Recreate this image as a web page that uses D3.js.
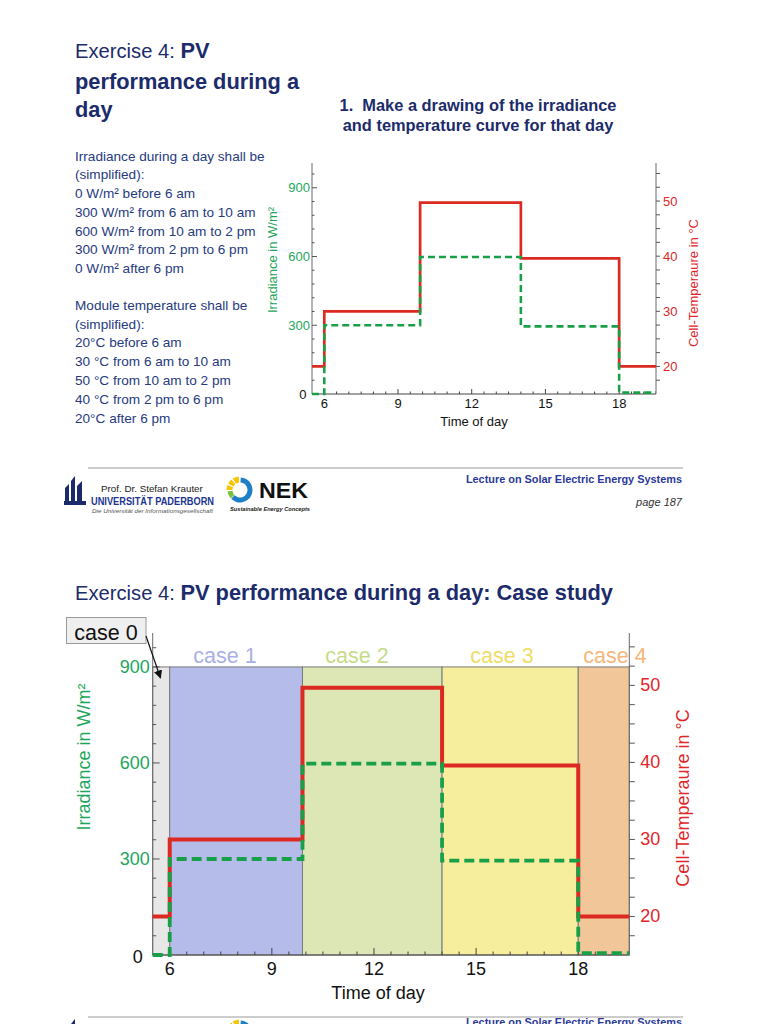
<!DOCTYPE html>
<html><head><meta charset="utf-8">
<script src="https://cdn.jsdelivr.net/npm/d3@7"></script>
<style>
body{margin:0;background:#fff}
svg{display:block;font-family:"Liberation Sans",Arial,Helvetica,sans-serif}
</style>
</head><body>
<svg id="c" width="768" height="1024"></svg>
<script>
// ---------------- data ----------------
const stepHours   = [5.5, 6, 9.9, 14, 18, 19.5];      // boundaries of the daily steps (h)
const irradiance  = [0, 300, 598, 295, 6];            // W/m² in each step
const cellTemp    = [20, 30, 49.7, 39.6, 20];         // °C in each step
const caseNames   = ["case 0", "case 1", "case 2", "case 3", "case 4"];
const hourTicks   = [6, 9, 12, 15, 18];
const irrTicks    = [0, 300, 600, 900];
const tempTicks   = [20, 30, 40, 50];
const bandTop     = 900;                               // W/m², top of the case bands
const irrLines = ["Irradiance during a day shall be", "(simplified):", "0 W/m² before 6 am",
  "300 W/m² from 6 am to 10 am", "600 W/m² from 10 am to 2 pm", "300 W/m² from 2 pm to 6 pm", "0 W/m² after 6 pm"];
const tempLines = ["Module temperature shall be", "(simplified):", "20°C before 6 am",
  "30 °C from 6 am to 10 am", "50 °C from 10 am to 2 pm", "40 °C from 2 pm to 6 pm", "20°C after 6 pm"];

// ---------------- styles ----------------
const NAVY = "#1c2b6b", TXT = "#263a80", GREEN = "#1ea65a", RED = "#e0262a",
      LRED = "#dc2a22", LGREEN = "#18a048", AX = "#6a6a6a";
const caseFill  = ["#e7e7e7", "#b6bcea", "#dde7b6", "#f6ed9d", "#f1c799"];
const caseLabel = ["#000", "#a9b0e4", "#c6db8a", "#efdc68", "#f5b67a"];
const caseLabelX = [0, 225, 357, 502, 615];

const svg = d3.select("#c");
svg.append("rect").attr("width", 768).attr("height", 1024).attr("fill", "#fff");

// ---------------- slide 1 text ----------------
const t1 = svg.append("text").attr("x", 75).attr("y", 58).attr("fill", NAVY);
t1.append("tspan").attr("font-size", 20.2).text("Exercise 4: ");
t1.append("tspan").attr("font-size", 21.8).attr("font-weight", "bold").text("PV");
svg.append("text").attr("x", 75).attr("y", 89).attr("fill", NAVY).attr("font-size", 21.8)
  .attr("font-weight", "bold").text("performance during a");
svg.append("text").attr("x", 75).attr("y", 117).attr("fill", NAVY).attr("font-size", 21.8)
  .attr("font-weight", "bold").text("day");

svg.selectAll("text.l1").data(irrLines).join("text").attr("class", "l1")
  .attr("x", 75).attr("y", (d, i) => 160.7 + i * 18.7).attr("fill", TXT).attr("font-size", 13.6).text(d => d);
svg.selectAll("text.l2").data(tempLines).join("text").attr("class", "l2")
  .attr("x", 75).attr("y", (d, i) => 309.7 + i * 18.8).attr("fill", TXT).attr("font-size", 13.6).text(d => d);

svg.append("text").attr("x", 478).attr("y", 111).attr("text-anchor", "middle").attr("fill", NAVY)
  .attr("font-size", 16.4).attr("font-weight", "bold").attr("xml:space", "preserve").text("1.  Make a drawing of the irradiance");
svg.append("text").attr("x", 478).attr("y", 131).attr("text-anchor", "middle").attr("fill", NAVY)
  .attr("font-size", 16.4).attr("font-weight", "bold").text("and temperature curve for that day");

// ---------------- slide 2 title ----------------
const t2 = svg.append("text").attr("x", 75).attr("y", 600).attr("fill", NAVY);
t2.append("tspan").attr("font-size", 20.2).text("Exercise 4: ");
t2.append("tspan").attr("font-size", 21.8).attr("font-weight", "bold").text("PV performance during a day: Case study");

// ---------------- chart ----------------
function chart(L) {
  const g = svg.append("g");
  const x = d3.scaleLinear().domain([stepHours[0], stepHours[stepHours.length - 1]]).range([L.x0, L.x1]);
  const yI = d3.scaleLinear().domain([0, L.irrMax]).range([L.yb, L.yt]);
  const yT = d3.scaleLinear().domain([L.tMin, L.tMax]).range([L.yb, L.yt]);

  if (L.bands) {
    g.selectAll("rect.band").data(caseNames).join("rect").attr("class", "band")
      .attr("x", (d, i) => x(stepHours[i])).attr("width", (d, i) => x(stepHours[i + 1]) - x(stepHours[i]))
      .attr("y", yI(bandTop)).attr("height", yI(0) - yI(bandTop))
      .attr("fill", (d, i) => caseFill[i]).attr("stroke", "#7a7a7a").attr("stroke-width", 1);
    g.selectAll("text.case").data(caseNames.slice(1)).join("text").attr("class", "case")
      .attr("x", (d, i) => caseLabelX[i + 1]).attr("y", 663).attr("text-anchor", "middle")
      .attr("font-size", 21.5).attr("fill", (d, i) => caseLabel[i + 1]).text(d => d);
  }

  // axes lines
  g.append("line").attr("x1", L.x0).attr("x2", L.x0).attr("y1", L.yb).attr("y2", L.yt).attr("stroke", AX);
  g.append("line").attr("x1", L.x1).attr("x2", L.x1).attr("y1", L.yb).attr("y2", L.yt).attr("stroke", AX);
  g.append("line").attr("x1", L.x0).attr("x2", L.x1).attr("y1", L.yb).attr("y2", L.yb).attr("stroke", "#444");

  // left ticks (inside)
  const irrMinor = d3.range(60, L.irrMax, 60);
  g.selectAll("line.li").data(irrMinor).join("line").attr("class", "li")
    .attr("x1", L.x0).attr("x2", d => L.x0 + (d % 300 === 0 ? L.tkMaj : L.tkMin))
    .attr("y1", d => yI(d)).attr("y2", d => yI(d)).attr("stroke", "#555");
  g.selectAll("text.li").data(irrTicks).join("text").attr("class", "li")
    .attr("x", d => d === 0 ? L.x0 - L.zeroOff : L.x0 - L.lblOff).attr("y", d => yI(d) + (d === 0 ? L.zeroDy : 0))
    .attr("text-anchor", "end").attr("dominant-baseline", "central")
    .attr("font-size", L.fs).attr("fill", d => d === 0 ? "#111" : GREEN).text(d => d);

  // right ticks (outside)
  const tMinor = d3.range(17.5, L.tMax, 2.5);
  g.selectAll("line.ri").data(tMinor).join("line").attr("class", "ri")
    .attr("x1", L.x1).attr("x2", L.x1 + L.tkR)
    .attr("y1", d => yT(d)).attr("y2", d => yT(d)).attr("stroke", "#555");
  g.selectAll("text.ri").data(tempTicks).join("text").attr("class", "ri")
    .attr("x", L.x1 + L.rOff).attr("y", d => yT(d)).attr("dominant-baseline", "central")
    .attr("font-size", L.fs).attr("fill", RED).text(d => d);

  // bottom ticks (inside)
  const hMinor = d3.range(6, stepHours[stepHours.length - 1], 0.5);
  g.selectAll("line.bi").data(hMinor).join("line").attr("class", "bi")
    .attr("x1", d => x(d)).attr("x2", d => x(d))
    .attr("y1", L.yb).attr("y2", d => L.yb - (hourTicks.includes(d) ? L.tkMaj : L.tkMin)).attr("stroke", "#444");
  g.selectAll("text.bi").data(hourTicks).join("text").attr("class", "bi")
    .attr("x", d => x(d)).attr("y", L.yb + L.xDy).attr("text-anchor", "middle").attr("dominant-baseline", "central")
    .attr("font-size", L.fs).attr("fill", "#111").text(d => d);

  // axis titles
  g.append("text").attr("transform", `translate(${L.irrT[0]},${L.irrT[1]}) rotate(-90)`)
    .attr("text-anchor", "middle").attr("dominant-baseline", "central")
    .attr("font-size", L.tfs).attr("fill", GREEN).text("Irradiance in W/m²");
  g.append("text").attr("transform", `translate(${L.tmpT[0]},${L.tmpT[1]}) rotate(-90)`)
    .attr("text-anchor", "middle").attr("dominant-baseline", "central")
    .attr("font-size", L.tfs).attr("fill", RED).text("Cell-Temperaure in °C");
  g.append("text").attr("x", L.timeT[0]).attr("y", L.timeT[1]).attr("text-anchor", "middle")
    .attr("dominant-baseline", "central").attr("font-size", L.tfs).attr("fill", "#111").text("Time of day");

  // step lines
  const stepPts = vals => vals.map((v, i) => [stepHours[i], v]).concat([[stepHours[vals.length], vals[vals.length - 1]]]);
  const lineT = d3.line().x(d => x(d[0])).y(d => yT(d[1])).curve(d3.curveStepAfter);
  const lineI = d3.line().x(d => x(d[0])).y(d => yI(d[1])).curve(d3.curveStepAfter);
  g.append("path").attr("d", lineT(stepPts(cellTemp))).attr("fill", "none")
    .attr("stroke", LRED).attr("stroke-width", L.lw);
  g.append("path").attr("d", lineI(stepPts(irradiance))).attr("fill", "none")
    .attr("stroke", LGREEN).attr("stroke-width", L.lw * 0.95).attr("stroke-dasharray", L.dash);
}

chart({x0: 312, x1: 656, yb: 394, yt: 163, irrMax: 1008, tMin: 15, tMax: 56.9,
  fs: 13, tfs: 13, tkMaj: 5, tkMin: 2.5, tkR: 4, lblOff: 2, zeroOff: 5.5, zeroDy: 0, rOff: 7, xDy: 9.5,
  lw: 2.7, dash: "7,4", bands: false,
  irrT: [272, 260], tmpT: [693, 283], timeT: [474, 421]});

chart({x0: 152.7, x1: 629.3, yb: 955, yt: 633, irrMax: 1006, tMin: 15, tMax: 56.8,
  fs: 18, tfs: 18, tkMaj: 7, tkMin: 3.5, tkR: 5.5, lblOff: 3, zeroOff: 10, zeroDy: 1.5, rOff: 11, xDy: 13.5,
  lw: 4, dash: "10,5", bands: true,
  irrT: [84, 757], tmpT: [683, 798], timeT: [378, 993]});

// case 0 call-out
svg.append("defs").append("marker").attr("id", "ah").attr("viewBox", "0 0 10 10").attr("refX", 9).attr("refY", 5)
  .attr("markerWidth", 7).attr("markerHeight", 7).attr("orient", "auto")
  .append("path").attr("d", "M0,0L10,5L0,10z").attr("fill", "#111");
svg.append("rect").attr("x", 66.5).attr("y", 617.5).attr("width", 79.5).attr("height", 26)
  .attr("fill", "#efefef").attr("stroke", "#9a9a9a");
svg.append("text").attr("x", 106).attr("y", 640).attr("text-anchor", "middle").attr("font-size", 21.5)
  .attr("fill", "#111").text("case 0");
svg.append("line").attr("x1", 146).attr("y1", 636).attr("x2", 160.5).attr("y2", 678)
  .attr("stroke", "#111").attr("stroke-width", 1.2).attr("marker-end", "url(#ah)");

// ---------------- footers ----------------
function footer(dy, lineY, full) {
  svg.append("line").attr("x1", 88).attr("x2", 683).attr("y1", lineY).attr("y2", lineY).attr("stroke", "#9a9a9a");
  const g = svg.append("g").attr("transform", `translate(0,${dy})`);
  // university logo
  const lg = g.append("g").attr("fill", "#1b2a6a");
  lg.append("rect").attr("x", 64).attr("y", 501).attr("width", 22).attr("height", 4);
  lg.append("path").attr("d", "M65,501 L65,488 L69,484 L69,501Z");
  lg.append("path").attr("d", "M71,501 L71,481 L75,476 L75,501Z");
  lg.append("path").attr("d", "M77,501 L77,486 L82,481 L82,501Z");
  // NEK logo
  const ng = g.append("g").attr("transform", "translate(240,490)");
  const arc = d3.arc();
  ng.append("path").attr("d", arc({innerRadius: 7.5, outerRadius: 12.5, startAngle: 0.02 * Math.PI, endAngle: 1.25 * Math.PI})).attr("fill", "#1d7fc6");
  ng.append("path").attr("d", arc({innerRadius: 7.5, outerRadius: 12.5, startAngle: 1.27 * Math.PI, endAngle: 1.47 * Math.PI})).attr("fill", "#7cc242");
  [[1.5, 1.62], [1.66, 1.78], [1.82, 1.97]].forEach(a =>
    ng.append("path").attr("d", arc({innerRadius: 7.5, outerRadius: 13.5, startAngle: a[0] * Math.PI, endAngle: a[1] * Math.PI})).attr("fill", "#f6c400"));
  g.append("text").attr("x", 682).attr("y", 483).attr("text-anchor", "end").attr("font-size", 10.9).attr("font-weight", "bold")
    .attr("fill", "#2b3a9a").text("Lecture on Solar Electric Energy Systems");
  if (!full) return;
  g.append("text").attr("x", 101).attr("y", 492).attr("font-size", 9.8).attr("fill", "#222").text("Prof. Dr. Stefan Krauter");
  g.append("text").attr("x", 91).attr("y", 505).attr("font-size", 10.5).attr("font-weight", "bold").attr("fill", "#22358f")
    .attr("textLength", 123).attr("lengthAdjust", "spacingAndGlyphs").text("UNIVERSITÄT PADERBORN");
  g.append("text").attr("x", 92).attr("y", 513).attr("font-size", 5.5).attr("font-style", "italic").attr("fill", "#555")
    .attr("textLength", 121).attr("lengthAdjust", "spacingAndGlyphs").text("Die Universität der Informationsgesellschaft");
  g.append("text").attr("x", 259).attr("y", 498).attr("font-size", 22).attr("font-weight", "bold").attr("fill", "#111")
    .attr("textLength", 49).attr("lengthAdjust", "spacingAndGlyphs").text("NEK");
  g.append("text").attr("x", 230).attr("y", 511).attr("font-size", 6).attr("font-weight", "bold").attr("font-style", "italic")
    .attr("fill", "#222").attr("textLength", 80).attr("lengthAdjust", "spacingAndGlyphs").text("Sustainable Energy Concepts");
  g.append("text").attr("x", 682).attr("y", 506).attr("text-anchor", "end").attr("font-size", 11).attr("font-style", "italic")
    .attr("fill", "#333").text("page 187");
}
footer(0, 468, true);
footer(543, 1017, false);
</script>
</body></html>
